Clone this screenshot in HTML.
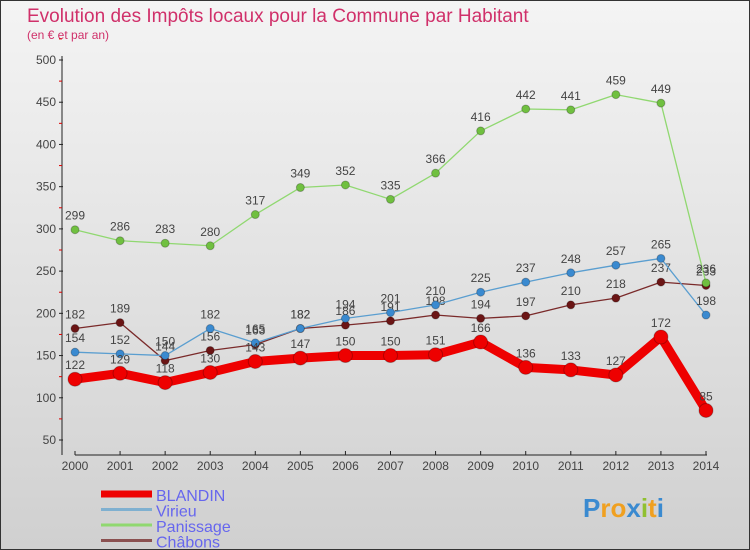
<!DOCTYPE html>
<html><head><meta charset="utf-8"><style>
body{margin:0;width:750px;height:550px;overflow:hidden;font-family:"Liberation Sans","DejaVu Sans",sans-serif}
#wrap{position:relative;width:748px;height:548px;border:1px solid #333;background:linear-gradient(#f4f4f4,#d0d0d0)}
</style></head><body>
<div id="wrap">
<svg id="chart" width="748" height="548" style="position:absolute;left:0;top:0"></svg>
</div>
<script>
const years=["2000","2001","2002","2003","2004","2005","2006","2007","2008","2009","2010","2011","2012","2013","2014"];
const blandin=[122,129,118,130,143,147,150,150,151,166,136,133,127,172,85];
const virieu=[154,152,150,182,165,182,194,201,210,225,237,248,257,265,198];
const panissage=[299,286,283,280,317,349,352,335,366,416,442,441,459,449,236];
const chabons=[182,189,144,156,163,182,186,191,198,194,197,210,218,237,233];
const yTicks=[50,100,150,200,250,300,350,400,450,500];
const NS="http://www.w3.org/2000/svg";
const svg=document.getElementById('chart');
function X(i){return 74+i*(705-74)/14;}
function Y(v){return 59+(500-v)*380/450;}
function el(t,a,p){const e=document.createElementNS(NS,t);for(const k in a)e.setAttribute(k,a[k]);(p||svg).appendChild(e);return e;}
function txt(x,y,s,a){const e=el('text',Object.assign({x:x,y:y},a));e.textContent=s;return e;}
let t=txt(26,21,"Evolution des Impôts locaux pour la Commune par Habitant",{fill:"#d0306a","font-size":"19"});

t=txt(26,38,"(en € et par an)",{fill:"#d0306a","font-size":"12"});

let ax=el('line',{x1:61,y1:55,x2:61,y2:454,stroke:"#222"});

yTicks.forEach(v=>{const l=el('line',{x1:58,y1:Y(v),x2:62,y2:Y(v),stroke:"#222"});

const m=el('line',{x1:58,y1:Y(v+25),x2:61,y2:Y(v+25),stroke:"#d00"});

const s=txt(55,Y(v)+4,String(v),{fill:"#444","font-size":"12","text-anchor":"end"});
});
ax=el('line',{x1:74,y1:454,x2:706,y2:454,stroke:"#222"});

years.forEach((y,i)=>{const l=el('line',{x1:X(i),y1:450,x2:X(i),y2:454,stroke:"#222"});

const s=txt(X(i),469,y,{fill:"#444","font-size":"12","text-anchor":"middle"});
});
function series(d,name,color,dot,w,r){
const g=el('g',{});
const p=el('polyline',{points:d.map((v,i)=>X(i)+","+Y(v)).join(" "),fill:"none",stroke:color,"stroke-width":w,"stroke-linejoin":"round"},g);

d.forEach((v,i)=>{const c=el('circle',{cx:X(i),cy:Y(v),r:r,fill:dot,stroke:"rgba(0,0,0,0.25)","stroke-width":1},g);

const s=txt(X(i),Y(v)-10,String(v),{fill:"#444","font-size":"12","text-anchor":"middle"},g);
});}
series(chabons,'chabons',"#7a2a2a","#6b1515",1.3,4);
series(panissage,'panissage',"#90d870","#70c040",1.3,4);
series(virieu,'virieu',"#5a9ed0","#3a8ad0",1.3,4);
series(blandin,'blandin',"#ee0000","#ee0000",9,7);
const leg=[["BLANDIN","#ee0000",7],["Virieu","#7fb0d0",3],["Panissage","#90d870",3],["Châbons","#8a5050",3]];
leg.forEach((l,i)=>{const y=493+i*15.5;
const r=el('line',{x1:100,y1:y,x2:151,y2:y,stroke:l[1],"stroke-width":l[2]});

const s=txt(155,y+7,l[0],{fill:"#6666ee","font-size":"16"});
});
const lg=txt(582,516,"",{"font-size":"26","font-weight":"bold"});

[["P","#3a8ad0"],["ro","#f0a020"],["x","#3a8ad0"],["i","#90c030"],["t","#f0a020"],["i","#3a8ad0"]].forEach(p=>{const ts=el('tspan',{fill:p[1]},lg);ts.textContent=p[0];});
</script>
</body></html>
